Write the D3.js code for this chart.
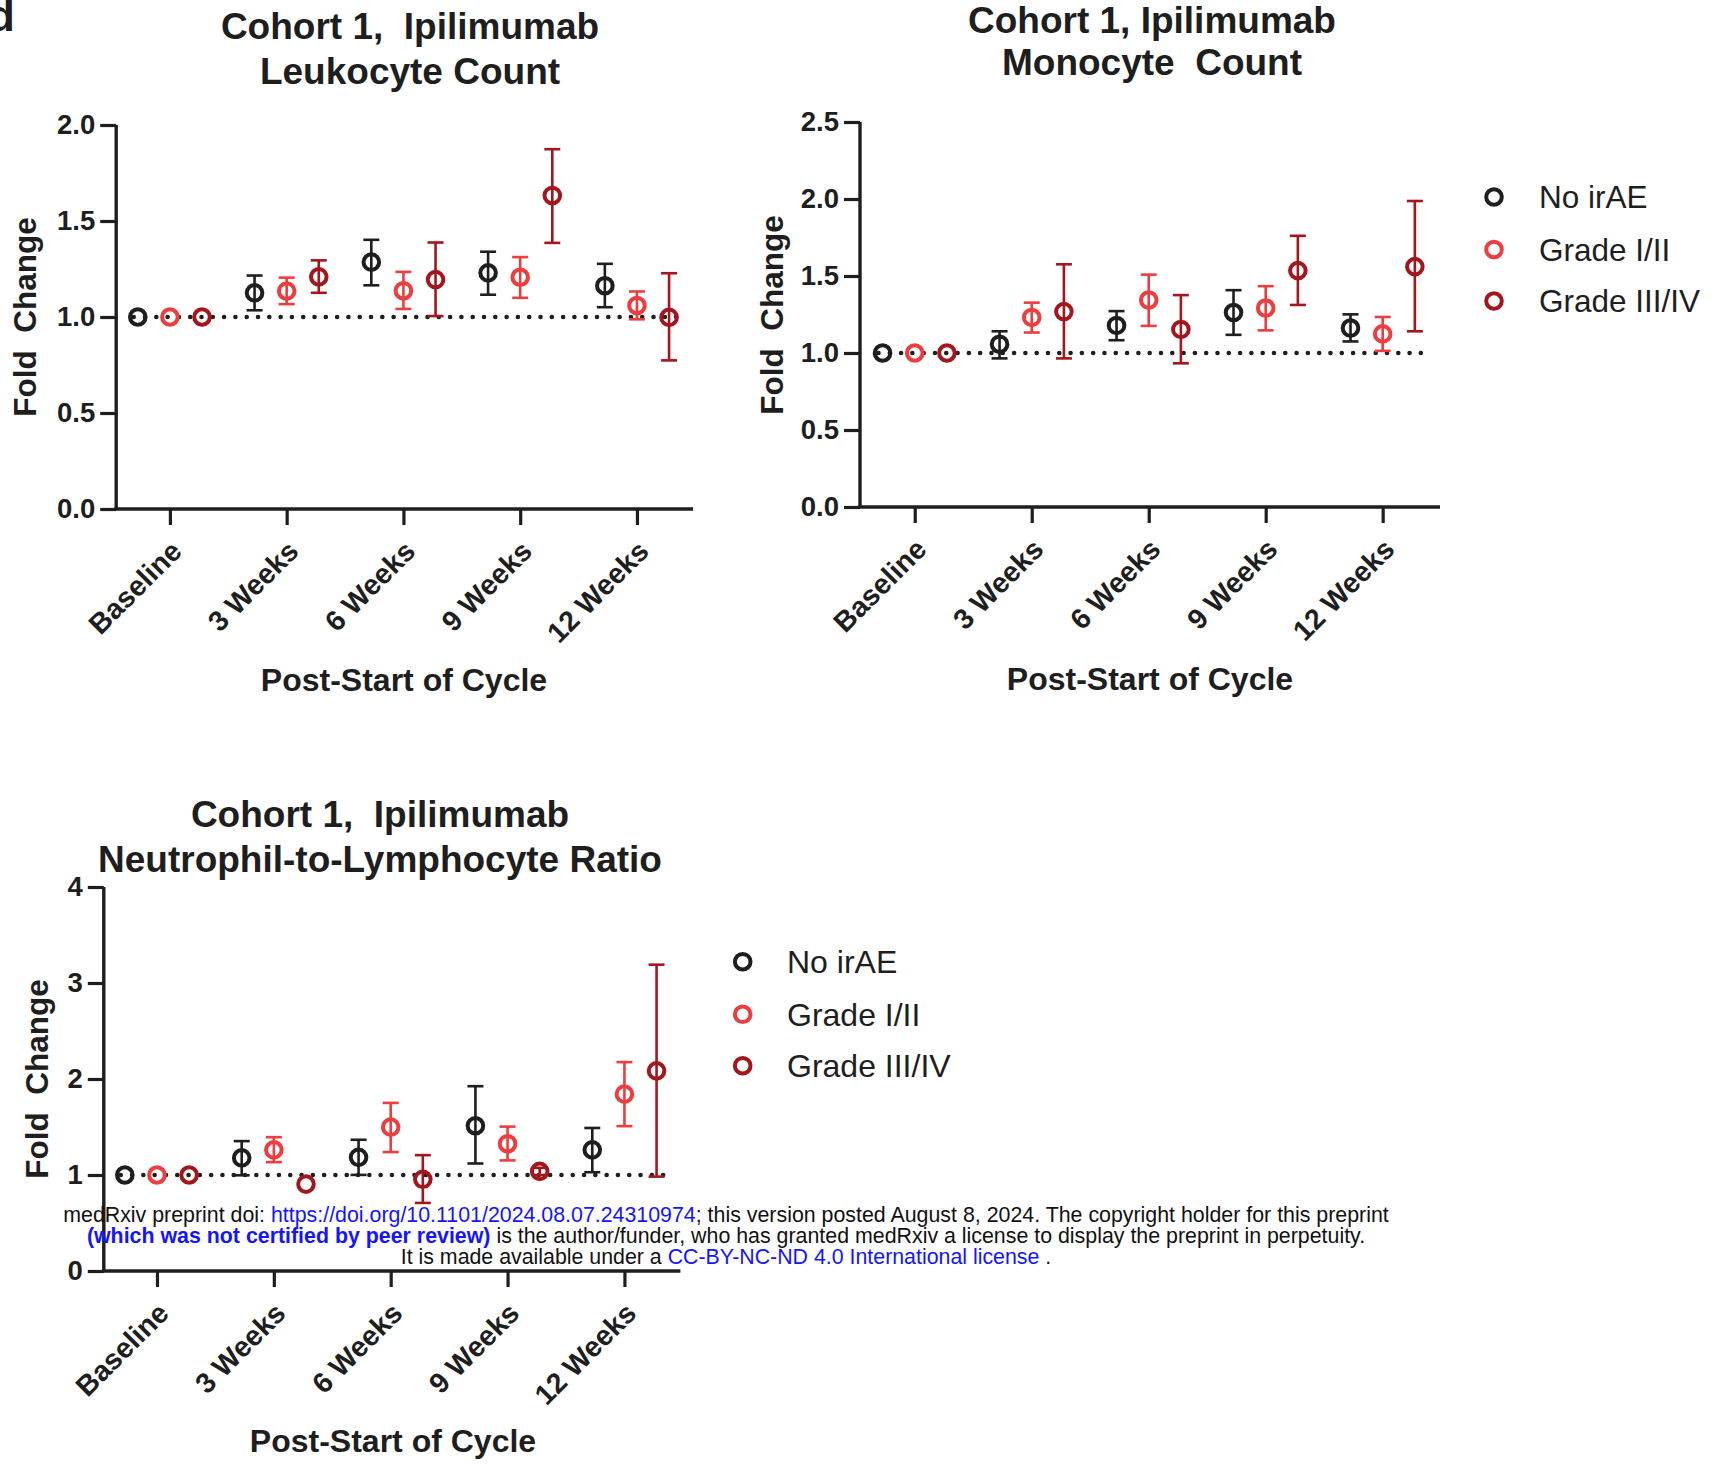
<!DOCTYPE html>
<html>
<head>
<meta charset="utf-8">
<script src="https://cdn.jsdelivr.net/npm/d3@7"></script>
<style>
  html, body { margin: 0; padding: 0; background: #fff; }
  svg { display: block; }
  text { font-family: "Liberation Sans", Arial, sans-serif; }
</style>
</head>
<body>
<svg id="chart" width="1715" height="1469"></svg>
<script>
// ---------------- DATA ----------------
const categories = ["Baseline", "3 Weeks", "6 Weeks", "9 Weeks", "12 Weeks"];
const groups = ["No irAE", "Grade I/II", "Grade III/IV"];
const groupColors = ["#1e1e1e", "#ee3d3f", "#a3161d"];

const leukTicks = [0, 0.5, 1.0, 1.5, 2.0];
const monoTicks = [0, 0.5, 1.0, 1.5, 2.0, 2.5];
const nlrTicks = [0, 1, 2, 3, 4];

// Leukocyte count (fold change, mean with error bar low/high)
const leukNoMean  = [1.00, 1.126, 1.286, 1.230, 1.163];
const leukNoLo    = [null, 1.035, 1.165, 1.116, 1.051];
const leukNoHi    = [null, 1.216, 1.402, 1.340, 1.277];
const leukG12Mean = [1.00, 1.135, 1.137, 1.207, 1.060];
const leukG12Lo   = [null, 1.067, 1.042, 1.100, 0.988];
const leukG12Hi   = [null, 1.205, 1.235, 1.312, 1.133];
const leukG34Mean = [1.00, 1.209, 1.195, 1.633, 0.998];
const leukG34Lo   = [null, 1.126, 1.005, 1.386, 0.774];
const leukG34Hi   = [null, 1.295, 1.388, 1.874, 1.228];

// Monocyte count
const monoNoMean  = [1.00, 1.057, 1.179, 1.263, 1.162];
const monoNoLo    = [null, 0.965, 1.083, 1.118, 1.075];
const monoNoHi    = [null, 1.141, 1.272, 1.408, 1.251];
const monoG12Mean = [1.00, 1.231, 1.344, 1.292, 1.124];
const monoG12Lo   = [null, 1.133, 1.176, 1.147, 1.014];
const monoG12Hi   = [null, 1.327, 1.509, 1.434, 1.234];
const monoG34Mean = [1.00, 1.269, 1.153, 1.535, 1.561];
const monoG34Lo   = [null, 0.965, 0.933, 1.312, 1.141];
const monoG34Hi   = [null, 1.576, 1.376, 1.761, 1.987];

// Neutrophil-to-lymphocyte ratio
const nlrNoMean  = [1.00, 1.179, 1.184, 1.513, 1.262];
const nlrNoLo    = [null, 0.997, 1.001, 1.120, 1.029];
const nlrNoHi    = [null, 1.353, 1.367, 1.925, 1.490];
const nlrG12Mean = [1.00, 1.262, 1.499, 1.326, 1.842];
const nlrG12Lo   = [null, 1.134, 1.239, 1.152, 1.509];
const nlrG12Hi   = [null, 1.394, 1.751, 1.504, 2.176];
const nlrG34Mean = [1.00, 0.905, 0.955, 1.038, 2.085];
const nlrG34Lo   = [null, null, 0.709, 1.000, 0.983];
const nlrG34Hi   = [null, null, 1.207, 1.075, 3.191];

// ---------------- DRAWING ----------------
const svg = d3.select("#chart");
svg.append("rect").attr("width", 1715).attr("height", 1469).attr("fill", "#fff");

// partial panel letter at the top-left corner (cropped in the original figure)
svg.append("text").attr("x", 15).attr("y", 31).attr("text-anchor", "end")
  .attr("font-size", 44).attr("font-weight", "bold").attr("fill", "#1e1e1e").text("d");

const dodge = [-0.275, 0, 0.275];
const INK = "#1e1e1e";

function buildSeries(means, los, his) {
  return means.map((m, gi) => m.map((v, ci) => ({ g: gi, c: ci, v: v, lo: los[gi][ci], hi: his[gi][ci] }))).flat();
}

function drawPanel(cfg) {
  const g = svg.append("g");
  const x = d3.scaleLinear().domain(cfg.xDomain).range([cfg.left, cfg.right]);
  const y = d3.scaleLinear().domain([0, cfg.yMax]).range([cfg.bottom, cfg.top]);

  // titles
  cfg.title.forEach((t, i) => {
    g.append("text").attr("x", cfg.titleX).attr("y", cfg.titleY[i]).attr("text-anchor", "middle")
      .attr("font-size", 37).attr("font-weight", "bold").attr("fill", INK)
      .style("white-space", "pre").text(t);
  });

  // y axis
  const yAxis = d3.axisLeft(y).tickValues(cfg.yTicks).tickFormat(cfg.yFormat)
    .tickSize(16).tickSizeOuter(0).tickPadding(5);
  const ya = g.append("g").attr("transform", `translate(${cfg.left},0)`).call(yAxis);
  ya.select(".domain").attr("stroke", INK).attr("stroke-width", 3.4)
    .attr("d", `M0,${cfg.top}V${cfg.bottom}`);
  ya.selectAll(".tick line").attr("stroke", INK).attr("stroke-width", 3.2);
  ya.selectAll(".tick text").attr("font-size", 27.5).attr("font-weight", "bold").attr("fill", INK)
    .attr("font-family", "'Liberation Sans', Arial, sans-serif");

  // x axis
  const xAxis = d3.axisBottom(x).tickValues(d3.range(categories.length))
    .tickFormat(i => categories[i]).tickSize(16).tickSizeOuter(0);
  const xa = g.append("g").attr("transform", `translate(0,${cfg.bottom})`).call(xAxis);
  xa.select(".domain").attr("stroke", INK).attr("stroke-width", 3.4)
    .attr("d", `M${cfg.left - 1.7},0H${cfg.right}`);
  xa.selectAll(".tick line").attr("stroke", INK).attr("stroke-width", 3.2);
  xa.selectAll(".tick text")
    .attr("font-size", 28.5).attr("font-weight", "bold").attr("fill", INK)
    .attr("font-family", "'Liberation Sans', Arial, sans-serif")
    .attr("text-anchor", "end").attr("y", 0).attr("dy", 0)
    .attr("transform", "translate(13,44) rotate(-45)");

  // axis titles
  g.append("text").attr("x", cfg.xTitleX).attr("y", cfg.xTitleY).attr("text-anchor", "middle")
    .attr("font-size", 32).attr("font-weight", "bold").attr("fill", INK).text("Post-Start of Cycle");
  g.append("text").attr("transform", `translate(${cfg.yTitleX},${cfg.yTitleY}) rotate(-90)`)
    .attr("text-anchor", "middle").attr("font-size", 31.5).attr("font-weight", "bold").attr("fill", INK)
    .style("white-space", "pre").text("Fold  Change");

  // reference dotted line at 1
  g.append("line").attr("x1", x(-0.31)).attr("x2", x(cfg.dotEnd)).attr("y1", y(1)).attr("y2", y(1))
    .attr("stroke", INK).attr("stroke-width", 4.6).attr("stroke-linecap", "round")
    .attr("stroke-dasharray", "0 11.3");

  const pts = buildSeries(cfg.means, cfg.los, cfg.his);
  const px = d => x(d.c + dodge[d.g]);

  // error bars
  const eb = g.append("g").selectAll("g").data(pts.filter(d => d.lo != null)).join("g")
    .attr("stroke", d => groupColors[d.g]).attr("stroke-width", 2.6);
  eb.append("line").attr("x1", px).attr("x2", px).attr("y1", d => y(d.lo)).attr("y2", d => y(d.hi));
  eb.append("line").attr("x1", d => px(d) - 8).attr("x2", d => px(d) + 8).attr("y1", d => y(d.hi)).attr("y2", d => y(d.hi));
  eb.append("line").attr("x1", d => px(d) - 8).attr("x2", d => px(d) + 8).attr("y1", d => y(d.lo)).attr("y2", d => y(d.lo));

  // markers
  g.append("g").selectAll("circle").data(pts).join("circle")
    .attr("cx", px).attr("cy", d => y(d.v)).attr("r", 7.8)
    .attr("fill", "none").attr("stroke", d => groupColors[d.g]).attr("stroke-width", 4);

  // legend
  if (cfg.legend) {
    const lg = g.append("g");
    groups.forEach((name, i) => {
      lg.append("circle").attr("cx", cfg.legend.x).attr("cy", cfg.legend.y[i]).attr("r", 7.8)
        .attr("fill", "none").attr("stroke", groupColors[i]).attr("stroke-width", 4);
      lg.append("text").attr("x", cfg.legend.tx).attr("y", cfg.legend.y[i]).attr("dy", "0.36em")
        .attr("font-size", cfg.legend.fs).attr("fill", INK).text(name);
    });
  }
}

drawPanel({
  left: 116.2, right: 693, top: 125, bottom: 509, yMax: 2.0, xDomain: [-0.46, 4.48],
  yTicks: leukTicks, yFormat: d3.format(".1f"),
  title: ["Cohort 1,  Ipilimumab", "Leukocyte Count"], titleX: 410, titleY: [39, 84],
  xTitleX: 404, xTitleY: 691, yTitleX: 36, yTitleY: 317, dotEnd: 4.40,
  means: [leukNoMean, leukG12Mean, leukG34Mean], los: [leukNoLo, leukG12Lo, leukG34Lo], his: [leukNoHi, leukG12Hi, leukG34Hi],
  legend: null
});

drawPanel({
  left: 860, right: 1440, top: 122, bottom: 507, yMax: 2.5, xDomain: [-0.468, 4.49],
  yTicks: monoTicks, yFormat: d3.format(".1f"),
  title: ["Cohort 1, Ipilimumab", "Monocyte  Count"], titleX: 1152, titleY: [33, 75],
  xTitleX: 1150, xTitleY: 690, yTitleX: 783, yTitleY: 315, dotEnd: 4.37,
  means: [monoNoMean, monoG12Mean, monoG34Mean], los: [monoNoLo, monoG12Lo, monoG34Lo], his: [monoNoHi, monoG12Hi, monoG34Hi],
  legend: { x: 1494, tx: 1539, y: [197, 249.5, 301], fs: 31.5 }
});

drawPanel({
  left: 103.8, right: 680.4, top: 887, bottom: 1271, yMax: 4, xDomain: [-0.455, 4.479],
  yTicks: nlrTicks, yFormat: d3.format("d"),
  title: ["Cohort 1,  Ipilimumab", "Neutrophil-to-Lymphocyte Ratio"], titleX: 380, titleY: [827, 872],
  xTitleX: 393, xTitleY: 1452, yTitleX: 48, yTitleY: 1079, dotEnd: 4.39,
  means: [nlrNoMean, nlrG12Mean, nlrG34Mean], los: [nlrNoLo, nlrG12Lo, nlrG34Lo], his: [nlrNoHi, nlrG12Hi, nlrG34Hi],
  legend: { x: 742.7, tx: 787, y: [961.7, 1014.3, 1065.7], fs: 32 }
});

// ---------------- medRxiv watermark ----------------
const wm = svg.append("g").attr("font-size", 20);
const blue = "#1414ff";
const wmLines = [
  { y: 1222, w: 1326, parts: [["medRxiv preprint doi: ", "#111", "normal"], ["https://doi.org/10.1101/2024.08.07.24310974", blue, "normal"], ["; this version posted August 8, 2024. The copyright holder for this preprint", "#111", "normal"]] },
  { y: 1243, w: 1279, parts: [["(which was not certified by peer review)", blue, "bold"], [" is the author/funder, who has granted medRxiv a license to display the preprint in perpetuity.", "#111", "normal"]] },
  { y: 1264, w: 651, parts: [["It is made available under a ", "#111", "normal"], ["CC-BY-NC-ND 4.0 International license", blue, "normal"], [" .", "#111", "normal"]] }
];
wmLines.forEach(l => {
  const t = wm.append("text").attr("x", 726).attr("y", l.y).attr("text-anchor", "middle").style("white-space", "pre");
  l.parts.forEach(p => t.append("tspan").attr("fill", p[1]).attr("font-weight", p[2]).text(p[0]));
  const len = t.node().getComputedTextLength();
  if (len > 0) t.attr("font-size", 20 * l.w / len);
});
</script>
</body>
</html>
